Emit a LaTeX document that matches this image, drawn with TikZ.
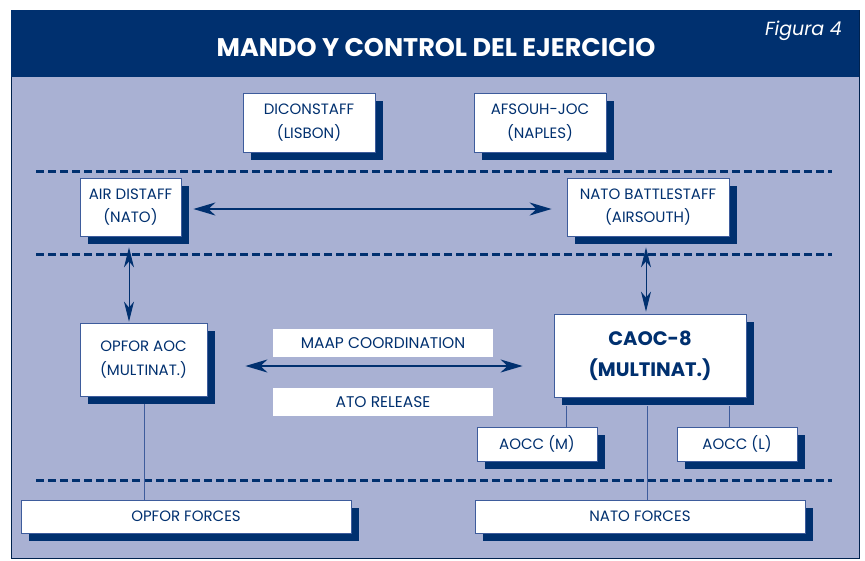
\documentclass[tikz,border=0pt]{standalone}
\usepackage{fontspec}
\setmainfont{Poppins}
\usetikzlibrary{arrows.meta,shadows,calc}
\definecolor{navy}{HTML}{00306F}
\definecolor{lav}{HTML}{A9B1D3}
\definecolor{edgeblue}{HTML}{3E5C9C}
\begin{document}
\begin{tikzpicture}[x=1pt,y=-1pt,
  wbox/.style={draw=edgeblue, line width=0.8pt, fill=white, text=navy, align=center,
    inner sep=0pt, font=\fontsize{15}{23.5}\selectfont,
    drop shadow={shadow xshift=8pt,shadow yshift=-8pt,fill=navy,opacity=1}},
  tagbox/.style={fill=white, text=navy, inner sep=0pt, minimum width=220pt, minimum height=28pt,
    font=\fontsize{15.5}{18}\selectfont},
  dline/.style={navy, line width=3pt, dash pattern=on 8pt off 4pt},
  harrow/.style={navy, line width=2pt, {Stealth[length=22pt,width=13pt,inset=7pt]}-{Stealth[length=22pt,width=13pt,inset=7pt]}},
  varrow/.style={navy, line width=1pt, {Stealth[length=20pt,width=10pt,inset=6pt]}-{Stealth[length=20pt,width=10pt,inset=6pt]}},
  link/.style={edgeblue, line width=1pt}]
\useasboundingbox (0,0) rectangle (865,560);
% frame and header
\fill[white] (0,0) rectangle (865,560);
\filldraw[fill=lav, draw=navy!70!black, line width=0.6pt] (11,10) rectangle (859,558);
\fill[navy] (11,10) rectangle (859,77);
\node[text=white, font=\bfseries\fontsize{25.5}{25.5}\selectfont] (title) at (436,48) {MANDO Y CONTROL DEL EJERCICIO};
\node[text=white, font=\itshape\fontsize{19}{19}\selectfont, anchor=base east, inner sep=0pt] (fig) at (842,35) {Figura 4};
% dashed separators
\draw[dline] (36,171) -- (832,171);
\draw[dline] (36,254) -- (832,254);
\draw[dline] (36,480) -- (832,480);
% boxes
\node[wbox, minimum width=132pt, minimum height=59pt] (dic) at (309,122.5) {DICONSTAFF\\(LISBON)};
\node[wbox, minimum width=132pt, minimum height=59pt] (afs) at (540,122.5) {AFSOUH-JOC\\(NAPLES)};
\node[wbox, minimum width=101pt, minimum height=58pt] (air) at (130.5,207) {AIR DISTAFF\\(NATO)};
\node[wbox, minimum width=162pt, minimum height=58pt] (nbs) at (648,207) {NATO BATTLESTAFF\\(AIRSOUTH)};
\node[wbox, minimum width=127pt, minimum height=73pt] (opa) at (143.5,359.5) {OPFOR AOC\\(MULTINAT.)};
\node[wbox, minimum width=192pt, minimum height=83pt, font=\bfseries\fontsize{19.5}{31}\selectfont] (caoc) at (650,355.5) {CAOC-8\\(MULTINAT.)};
\node[tagbox] (maap) at (383,343) {MAAP COORDINATION};
\node[tagbox] (ato) at (383,402) {ATO RELEASE};
\node[wbox, minimum width=120pt, minimum height=34pt] (aom) at (537,444) {AOCC (M)};
\node[wbox, minimum width=120pt, minimum height=34pt] (aol) at (737,444) {AOCC (L)};
\node[wbox, minimum width=330pt, minimum height=33pt] (opf) at (186,516.5) {OPFOR FORCES};
\node[wbox, minimum width=330pt, minimum height=33pt] (natf) at (640,516.5) {NATO FORCES};
% connectors
\draw[harrow] ([xshift=12pt,yshift=-2pt]air.east) -- ([xshift=-15pt,yshift=-2pt]nbs.west);
\draw[varrow] ([xshift=-1.5pt,yshift=-11pt]air.south) -- ([xshift=-1.5pt,yshift=1pt]air.south |- opa.north);
\draw[varrow] ([xshift=-2pt,yshift=-11pt]nbs.south) -- ([xshift=-2pt,yshift=2pt]nbs.south |- caoc.north);
\draw[harrow] ([xshift=38pt,yshift=-6.5pt]opa.east) -- ([xshift=-31pt,yshift=-6.5pt]opa.east -| caoc.west);
\draw[link] ([xshift=-84pt,yshift=-9pt]caoc.south) -- ([xshift=-84pt]caoc.south |- aom.north);
\draw[link] ([xshift=79pt,yshift=-9pt]caoc.south) -- ([xshift=79pt]caoc.south |- aol.north);
\draw[link] ([xshift=-3pt,yshift=-9pt]caoc.south) -- ([xshift=-3pt]caoc.south |- natf.north);
\draw[link] ([xshift=0.5pt,yshift=-8pt]opa.south) -- ([xshift=0.5pt]opa.south |- opf.north);
\end{tikzpicture}
\end{document}
